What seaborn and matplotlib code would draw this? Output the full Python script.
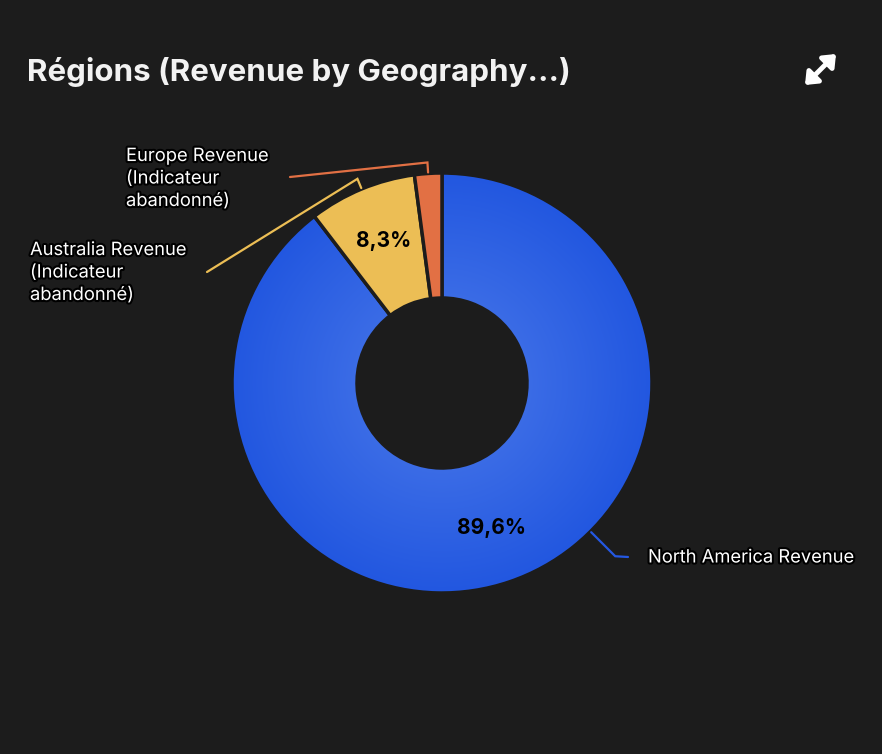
import numpy as np
import matplotlib
matplotlib.use("Agg")
import matplotlib.pyplot as plt
import seaborn as sns
import matplotlib.patheffects as pe
from matplotlib.colors import to_rgb

# ---- data ----
regions = ["North America Revenue",
           "Australia Revenue\n(Indicateur\nabandonné)",
           "Europe Revenue\n(Indicateur\nabandonné)"]
shares = [89.6, 8.3, 2.1]
pct_labels = ["89,6%", "8,3%", ""]
colors = ["#2458E2", "#ECBE55", "#E27044"]
title = "Régions (Revenue by Geography...)"

# ---- style / layout ----
sns.set_theme(style="dark")
plt.rcParams['font.family'] = ['Inter', 'DejaVu Sans']
BG = "#1c1c1c"
W, H = 882, 754
fig = plt.figure(figsize=(W / 100, H / 100), dpi=100, facecolor=BG)
ax = fig.add_axes([0, 0, 1, 1])
ax.set_facecolor(BG)

cx, cy = 442, H - 383
R, r_in = 210, 85

wedges, _ = ax.pie(shares, colors=colors, startangle=90, counterclock=False,
                   radius=R, center=(cx, cy),
                   wedgeprops=dict(width=R - r_in, edgecolor=BG, linewidth=2.5,
                                   joinstyle='round'))

# subtle radial gradient for the big blue slice
n = 400
xs = np.linspace(cx - R, cx + R, n)
ys = np.linspace(cy - R, cy + R, n)
X, Y = np.meshgrid(xs, ys)
rr = np.clip((np.hypot(X - cx, Y - cy) - r_in) / (R - r_in), 0, 1)
c_in, c_out = np.array(to_rgb("#3B6CE6")), np.array(to_rgb("#2257E0"))
img = c_in[None, None, :] * (1 - rr[..., None]) + c_out[None, None, :] * rr[..., None]
im = ax.imshow(img, extent=[cx - R, cx + R, cy - R, cy + R], origin='lower',
               zorder=0.5, interpolation='bilinear')
im.set_clip_path(wedges[0])
wedges[0].set_facecolor('none')
wedges[0].set_zorder(1)

ax.set_xlim(0, W)
ax.set_ylim(0, H)
ax.set_aspect('equal')
ax.axis('off')

stroke = [pe.withStroke(linewidth=3, foreground='black')]

# percentage labels
for w, lab in zip(wedges, pct_labels):
    if not lab:
        continue
    mid = np.deg2rad((w.theta1 + w.theta2) / 2)
    rm = (R + r_in) / 2 + 6
    ax.text(cx + rm * np.cos(mid), cy + rm * np.sin(mid), lab, ha='center',
            va='center', fontsize=15, fontweight='bold', color='black', zorder=5)

# leader lines & category labels (layout)
leader_angle = [-45, None, None]
leader_elbow = [245, 221, 221]
leader_end = [(628, H - 557), (207, H - 272), (290, H - 177)]
text_pos = [(648, H - 558), (30, H - 273), (126, H - 179)]
for i, (w, name) in enumerate(zip(wedges, regions)):
    a = leader_angle[i] if leader_angle[i] is not None else (w.theta1 + w.theta2) / 2
    a = np.deg2rad(a)
    p0 = (cx + (R + 1) * np.cos(a), cy + (R + 1) * np.sin(a))
    p1 = (cx + leader_elbow[i] * np.cos(a), cy + leader_elbow[i] * np.sin(a))
    p2 = leader_end[i]
    ax.plot([p0[0], p1[0], p2[0]], [p0[1], p1[1], p2[1]], color=colors[i],
            lw=1.6, zorder=3, solid_joinstyle='miter')
    ax.text(text_pos[i][0], text_pos[i][1], name, ha='left', va='center',
            fontsize=13.2, color='white', linespacing=1.42,
            path_effects=stroke, zorder=6)

# title
fig.text(27 / W, 1 - 72 / H, title, ha='left', va='center', fontsize=22.5,
         fontweight='bold', color='#f2f2f2')

# expand icon
ax.annotate("", xy=(836, H - 54), xytext=(805, H - 85),
            arrowprops=dict(arrowstyle='<|-|>,head_length=0.55,head_width=0.45',
                            lw=3.5, color='white', shrinkA=0, shrinkB=0))

fig.savefig("out.png", dpi=100, facecolor=BG)
